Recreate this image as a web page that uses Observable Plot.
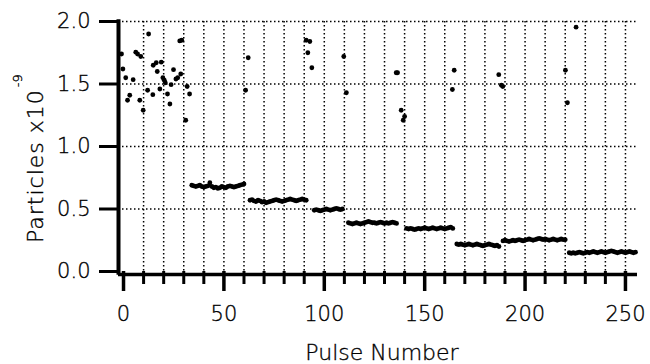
<!DOCTYPE html>
<html>
<head>
<meta charset="utf-8">
<script src="https://cdn.jsdelivr.net/npm/d3@7"></script>
<script src="https://cdn.jsdelivr.net/npm/@observablehq/plot@0.6"></script>
<style>
  html, body { margin: 0; padding: 0; background: #fff; }
  #chart svg { display: block; }
  #chart svg text { stroke: #000; stroke-width: 0.35px; }
</style>
</head>
<body>
<div id="chart"></div>
<script>
// ---- data ----
const scatterPulse = [-1, -0.3, 1.1, 2, 3.1, 4.8, 6.1, 7, 8.1, 8.6, 9.8, 12, 12.5, 14.6, 14.8, 16.3, 16.8, 18.1, 18.8, 19.6, 20.3, 20.8, 21.9, 23.1, 23.7, 24.9, 26.1, 27, 28, 28.5, 29, 31, 31.7, 32.9,
  60.8, 62.1, 91, 91.8, 92.8, 93.8, 109.7, 111, 135.8, 136.5, 138.3, 139.3, 140, 163.8, 164.7, 186.9, 188.2, 188.9, 220.1, 221.1, 225.4];
const scatterValue = [1.74, 1.62, 1.55, 1.37, 1.41, 1.535, 1.755, 1.74, 1.37, 1.72, 1.29, 1.45, 1.90, 1.415, 1.65, 1.67, 1.60, 1.46, 1.675, 1.55, 1.53, 1.51, 1.42, 1.34, 1.495, 1.615, 1.54, 1.55, 1.845, 1.58, 1.85, 1.21, 1.48, 1.42,
  1.45, 1.71, 1.85, 1.75, 1.84, 1.63, 1.72, 1.43, 1.59, 1.59, 1.29, 1.21, 1.24, 1.456, 1.61, 1.575, 1.49, 1.48, 1.61, 1.35, 1.955];

const stepStart = [34, 63, 95, 112, 141, 166, 189, 222];
const step1 = [0.69, 0.685, 0.68, 0.685, 0.69, 0.68, 0.675, 0.68, 0.685, 0.71, 0.68, 0.67, 0.675, 0.665, 0.67, 0.68, 0.675, 0.67, 0.68, 0.685, 0.68, 0.675, 0.68, 0.685, 0.69, 0.695, 0.70];
const step2 = [0.57, 0.575, 0.565, 0.56, 0.57, 0.565, 0.555, 0.56, 0.55, 0.555, 0.56, 0.565, 0.57, 0.575, 0.57, 0.565, 0.56, 0.565, 0.57, 0.575, 0.58, 0.575, 0.57, 0.565, 0.57, 0.575, 0.58, 0.575, 0.57];
const step3 = [0.49, 0.495, 0.49, 0.485, 0.49, 0.495, 0.50, 0.495, 0.49, 0.495, 0.50, 0.505, 0.50, 0.495, 0.50];
const step4 = [0.39, 0.385, 0.38, 0.385, 0.39, 0.385, 0.38, 0.385, 0.39, 0.395, 0.40, 0.395, 0.39, 0.39, 0.385, 0.39, 0.395, 0.39, 0.385, 0.39, 0.385, 0.39, 0.395, 0.39, 0.385];
const step5 = [0.345, 0.34, 0.345, 0.34, 0.335, 0.34, 0.345, 0.34, 0.345, 0.35, 0.345, 0.34, 0.345, 0.35, 0.345, 0.34, 0.345, 0.35, 0.345, 0.34, 0.345, 0.35, 0.355, 0.345];
const step6 = [0.22, 0.215, 0.22, 0.215, 0.21, 0.215, 0.22, 0.215, 0.21, 0.215, 0.22, 0.215, 0.21, 0.205, 0.21, 0.215, 0.22, 0.215, 0.21, 0.205, 0.21, 0.20];
const step7 = [0.245, 0.25, 0.245, 0.24, 0.245, 0.25, 0.245, 0.25, 0.255, 0.25, 0.245, 0.25, 0.255, 0.26, 0.255, 0.25, 0.255, 0.26, 0.265, 0.26, 0.255, 0.26, 0.255, 0.25, 0.255, 0.26, 0.255, 0.25, 0.255, 0.26, 0.255, 0.255];
const step8 = [0.15, 0.145, 0.15, 0.145, 0.15, 0.155, 0.15, 0.145, 0.15, 0.155, 0.15, 0.155, 0.16, 0.155, 0.15, 0.155, 0.16, 0.155, 0.15, 0.155, 0.16, 0.165, 0.16, 0.155, 0.15, 0.155, 0.16, 0.155, 0.15, 0.155, 0.16, 0.155, 0.15, 0.155];

const xMajorTicks = [0, 50, 100, 150, 200, 250];
const xMinorTicks = [10, 20, 30, 40, 60, 70, 80, 90, 110, 120, 130, 140, 160, 170, 180, 190, 210, 220, 230, 240];
const xGridTicks = [10, 20, 30, 40, 50, 60, 70, 80, 90, 100, 110, 120, 130, 140, 150, 160, 170, 180, 190, 200, 210, 220, 230, 240, 250];
const yTicks = [0, 0.5, 1.0, 1.5, 2.0];
const yGridTicks = [0.5, 1.0, 1.5, 2.0];
const xLabel = "Pulse Number";
const yLabel = "Particles x10";
const yLabelExp = "-9";

// ---- build table ----
const points = scatterPulse.map((p, i) => ({pulse: p, value: scatterValue[i]}));
[step1, step2, step3, step4, step5, step6, step7, step8].forEach((arr, k) => {
  arr.forEach((v, i) => points.push({pulse: stepStart[k] + i, value: v}));
});

const FONT = "DejaVu Sans";
const ink = "#000";

const plot = Plot.plot({
  width: 650,
  height: 364,
  marginLeft: 118,
  marginRight: 13,
  marginTop: 21,
  marginBottom: 93,
  x: {domain: [-2.5, 256], label: null},
  y: {domain: [0, 2], label: null},
  style: {fontFamily: FONT, color: ink, background: "#fff"},
  marks: [
    Plot.gridX(xGridTicks, {stroke: "#000", strokeOpacity: 1, strokeWidth: 1.5, strokeDasharray: "1.5,2.5"}),
    Plot.gridY(yGridTicks, {stroke: "#000", strokeOpacity: 1, strokeWidth: 1.5, strokeDasharray: "1.5,2.5"}),
    Plot.dot(points, {x: "pulse", y: "value", r: 2.4, fill: ink, stroke: null}),
    Plot.ruleX([-2.5], {y1: -0.03, y2: 2.015, stroke: ink, strokeWidth: 4}),
    Plot.ruleY([0], {dy: 3, stroke: ink, strokeWidth: 3.5}),
    Plot.axisY(yTicks, {tickSize: 19, tickPadding: 9, strokeWidth: 3, tickFormat: d3.format(".1f"), fontSize: 21, fontWeight: 200, label: null}),
    Plot.axisX(xMinorTicks, {tickSize: 13, strokeWidth: 3, tickFormat: () => "", label: null}),
    Plot.axisX(xMajorTicks, {tickSize: 20, tickPadding: 15, strokeWidth: 3.5, tickFormat: d => String(d), fontSize: 21, fontWeight: 200, label: null}),
    Plot.text([xLabel], {frameAnchor: "bottom", dx: 4, dy: 81, lineAnchor: "middle", fontSize: 22, fontWeight: 200, fill: ink, text: d => d})
  ]
});

document.getElementById("chart").appendChild(plot);

// rotated y-axis label with superscript exponent
const svg = d3.select(plot);
const yl = svg.append("text")
  .attr("transform", "translate(43,243) rotate(-90)")
  .attr("text-anchor", "start")
  .attr("fill", ink)
  .attr("font-family", FONT)
  .attr("font-weight", 200)
  .attr("font-size", 22)
  .attr("letter-spacing", 1);
yl.append("tspan").text(yLabel);
yl.append("tspan").attr("dy", -21).attr("dx", 2).attr("font-size", 13).attr("letter-spacing", 0).text(yLabelExp);
</script>
</body>
</html>
